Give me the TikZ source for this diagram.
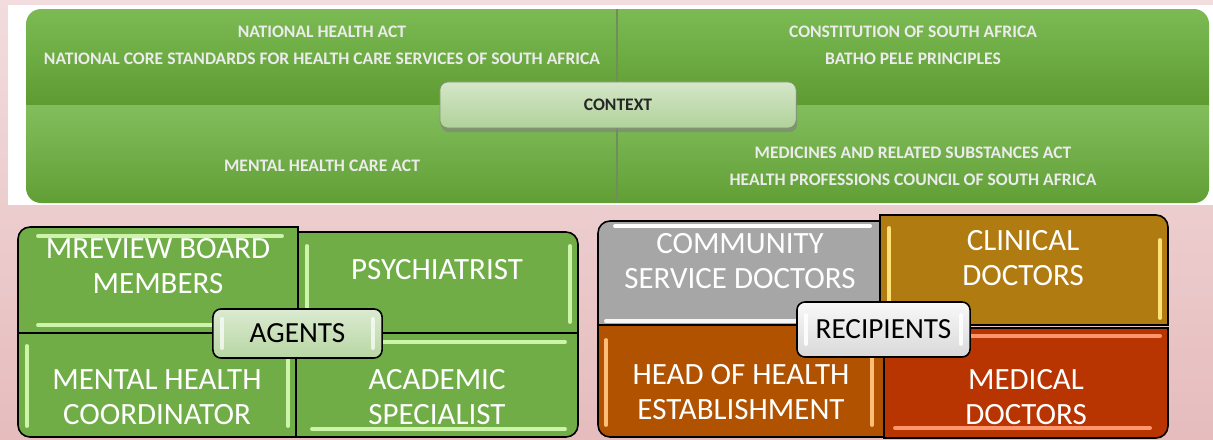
\documentclass[tikz,border=0pt]{standalone}
\usepackage{fontspec}
\setmainfont{Carlito}
\usetikzlibrary{shadows}

\definecolor{rosaoben}{RGB}{242,220,221}
\definecolor{rosaunten}{RGB}{230,188,189}
\definecolor{gruenhell}{RGB}{124,186,84}
\definecolor{gruendunkel}{RGB}{94,156,50}
\definecolor{gruen}{RGB}{112,173,71}
\definecolor{gruenglanz}{RGB}{205,245,170}
\definecolor{grau}{RGB}{166,166,166}
\definecolor{gold}{RGB}{176,123,16}
\definecolor{goldglanz}{RGB}{255,225,120}
\definecolor{orange}{RGB}{176,82,0}
\definecolor{orangeglanz}{RGB}{255,190,120}
\definecolor{rot}{RGB}{184,52,0}
\definecolor{rotglanz}{RGB}{255,150,110}

\begin{document}
\begin{tikzpicture}[x=0.01cm, y=0.01cm,
	obentext/.style={text=white!92!black, font=\bfseries\fontsize{5}{6}\selectfont},
	kacheltext/.style={text=white, align=center, font=\fontsize{8.8}{10}\selectfont},
	kachel/.style={draw=black, line width=0.45pt},
	glanz/.style={line width=1.1pt, line cap=round},
	mitte/.style={draw=black, line width=0.45pt, rounded corners=0.08cm, text=black,
		font=\fontsize{8.3}{10}\selectfont}]

	\useasboundingbox (0,0) rectangle (1213,-439);

	%Hintergrund
	\shade[top color=rosaoben, bottom color=rosaunten] (0,0) rectangle (1213,-439);
	\fill[white] (8,-5) rectangle (1213,-205);

	%Kontext-Feld
	\begin{scope}
		\clip[rounded corners=0.15cm] (26,-9) rectangle (1209,-203);
		\shade[top color=gruenhell, bottom color=gruendunkel] (26,-9) rectangle (1209,-105);
		\shade[top color=gruenhell!95!white, bottom color=gruendunkel!90!gruenhell] (26,-105) rectangle (1209,-203);
		\draw[gruendunkel!50!gray, line width=0.3pt] (617,-9) -- (617,-203);
	\end{scope}

	\node[obentext] (nha) at (322,-32) {NATIONAL HEALTH ACT};
	\node[obentext] (ncs) at (322,-59) {NATIONAL CORE STANDARDS FOR HEALTH CARE SERVICES OF SOUTH AFRICA};
	\node[obentext] (mhca) at (322,-166) {MENTAL HEALTH CARE ACT};
	\node[obentext] (csa) at (913,-32) {CONSTITUTION OF SOUTH AFRICA};
	\node[obentext] (bpp) at (913,-59) {BATHO PELE PRINCIPLES};
	\node[obentext] (mrsa) at (913,-153) {MEDICINES AND RELATED SUBSTANCES ACT};
	\node[obentext] (hpc) at (913,-180) {HEALTH PROFESSIONS COUNCIL OF SOUTH AFRICA};

	\node[rounded corners=0.08cm, minimum width=3.56cm, minimum height=0.46cm,
		top color=gruen!30!white, bottom color=gruen!55!white, draw=gruen!40!gray, line width=0.2pt,
		drop shadow={opacity=0.6, shadow xshift=0.3pt, shadow yshift=-1.2pt},
		text=black!85, font=\bfseries\fontsize{5}{6}\selectfont] (ctx) at (618,-105) {CONTEXT};

	%Agents
	\fill[gruen, kachel] (298,-333) -- (18,-333) -- (18,-239) arc[start angle=180, end angle=90, radius=12] -- (298,-227) -- cycle;
	\fill[gruen, kachel] (298,-333) -- (298,-232) -- (566,-232) arc[start angle=90, end angle=0, radius=12] -- (578,-333) -- cycle;
	\fill[gruen, kachel] (296,-333) -- (18,-333) -- (18,-425) arc[start angle=180, end angle=270, radius=12] -- (296,-437) -- cycle;
	\fill[gruen, kachel] (296,-333) -- (578,-333) -- (578,-425) arc[start angle=0, end angle=-90, radius=12] -- (296,-437) -- cycle;
	\draw[kachel] (298,-227) -- (298,-333) -- (296,-333) -- (296,-437);
	\draw[kachel] (18,-333) -- (578,-333);

	%Glanzstreifen Agents
	\draw[glanz, gruenglanz] (38,-236) -- (282,-236);
	\draw[glanz, gruenglanz] (38,-325) -- (282,-325);
	\draw[glanz, gruenglanz] (307,-246) -- (307,-322);
	\draw[glanz, gruenglanz] (570,-246) -- (570,-322);
	\draw[glanz, gruenglanz] (27,-346) -- (27,-426);
	\draw[glanz, gruenglanz] (288,-346) -- (288,-426);
	\draw[glanz, gruenglanz] (312,-342) -- (565,-342);
	\draw[glanz, gruenglanz] (312,-429) -- (565,-429);

	\node[kacheltext] (mrb) at (158,-266) {MREVIEW BOARD\\MEMBERS};
	\node[kacheltext] (psy) at (437,-270) {PSYCHIATRIST};
	\node[kacheltext] (mhc) at (157,-397) {MENTAL HEALTH\\COORDINATOR};
	\node[kacheltext] (aca) at (437,-397) {ACADEMIC\\SPECIALIST};

	\node[mitte, minimum width=1.69cm, minimum height=0.49cm,
		top color=gruen!25!white, bottom color=gruen!50!white] (agt) at (297.5,-333.5) {AGENTS};
	\draw[glanz, white, opacity=0.7] (222,-319) -- (222,-348);
	\draw[glanz, white, opacity=0.7] (373,-319) -- (373,-348);

	%Recipients
	\fill[grau, kachel] (882,-327) -- (598,-327) -- (598,-233) arc[start angle=180, end angle=90, radius=12] -- (882,-221) -- cycle;
	\fill[gold, kachel] (880,-325) -- (880,-215) -- (1156,-215) arc[start angle=90, end angle=0, radius=12] -- (1168,-325) -- cycle;
	\fill[orange, kachel] (885,-325) -- (598,-325) -- (598,-425) arc[start angle=180, end angle=270, radius=12] -- (885,-437) -- cycle;
	\fill[rot, kachel] (884,-328) -- (1168,-328) -- (1168,-426) arc[start angle=0, end angle=-90, radius=12] -- (884,-438) -- cycle;

	%Glanzstreifen Recipients
	\draw[glanz, white] (615,-226) -- (870,-226);
	\draw[glanz, white!90!grau] (606,-321) -- (870,-321);
	\draw[glanz, goldglanz] (889,-228) -- (889,-318);
	\draw[glanz, goldglanz] (1160,-240) -- (1160,-318);
	\draw[glanz, orangeglanz] (606,-340) -- (606,-425);
	\draw[glanz, orangeglanz] (872,-340) -- (872,-425);
	\draw[glanz, rotglanz] (895,-336) -- (1160,-336);
	\draw[glanz, rotglanz] (895,-428) -- (1150,-428);

	\node[kacheltext] (csd) at (740,-261) {COMMUNITY\\SERVICE DOCTORS};
	\node[kacheltext] (cld) at (1023,-258) {CLINICAL\\DOCTORS};
	\node[kacheltext] (hhe) at (741,-392) {HEAD OF HEALTH\\ESTABLISHMENT};
	\node[kacheltext] (mdd) at (1026,-397) {MEDICAL\\DOCTORS};

	\node[mitte, minimum width=1.73cm, minimum height=0.55cm,
		top color=white!95!gray, bottom color=gray!30!white] (rcp) at (883.5,-329.5) {RECIPIENTS};
	\draw[glanz, white, opacity=0.9] (806,-315) -- (806,-344);
	\draw[glanz, white, opacity=0.9] (961,-315) -- (961,-344);

\end{tikzpicture}
\end{document}
